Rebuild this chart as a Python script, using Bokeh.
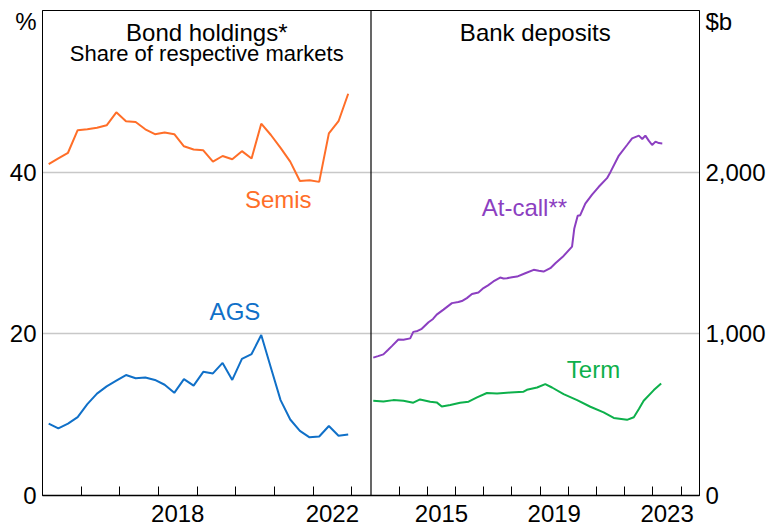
from bokeh.plotting import figure
from bokeh.models import (Range1d, LinearAxis, FixedTicker, NumeralTickFormatter,
                          Span, Label)
from bokeh.embed import file_html
from bokeh.resources import INLINE

# ---------------- data ----------------
# Left panel: quarterly bond holdings shares (%), 2015 Q1 .. 2022 Q4
bond_quarters = [2015.16 + 0.25 * i for i in range(32)]
semis_share = [41.0, 41.7, 42.4, 45.2, 45.3, 45.5, 45.8, 47.4, 46.3, 46.2, 45.3, 44.7,
               44.9, 44.7, 43.2, 42.8, 42.7, 41.3, 42.0, 41.6, 42.6, 41.7, 46.0, 44.6,
               43.0, 41.3, 38.9, 39.0, 38.8, 44.8, 46.3, 49.7]
ags_share = [8.9, 8.3, 8.9, 9.7, 11.3, 12.6, 13.5, 14.2, 14.9, 14.5, 14.6, 14.3,
             13.7, 12.7, 14.4, 13.6, 15.3, 15.1, 16.4, 14.3, 16.9, 17.5, 19.85, 15.8,
             11.8, 9.4, 8.0, 7.2, 7.3, 8.6, 7.4, 7.55]

# Right panel: bank deposits ($b)
atcall_date = [2013.08, 2013.25, 2013.44, 2013.60, 2013.74, 2013.97, 2014.15, 2014.39,
               2014.50, 2014.65, 2014.80, 2015.04, 2015.20, 2015.33, 2015.57, 2015.87,
               2016.10, 2016.25, 2016.40, 2016.58, 2016.81, 2016.99, 2017.15, 2017.34,
               2017.58, 2017.70, 2017.82, 2018.00, 2018.18, 2018.47, 2018.77, 2018.95,
               2019.12, 2019.36, 2019.54, 2019.83, 2020.13, 2020.21, 2020.33, 2020.42,
               2020.60, 2020.84, 2021.07, 2021.37, 2021.49, 2021.79, 2022.08, 2022.26,
               2022.50, 2022.62, 2022.73, 2022.85, 2022.97, 2023.09, 2023.21, 2023.33]
atcall_value = [853, 862, 873, 900, 924, 965, 963, 972,
                1012, 1018, 1031, 1072, 1092, 1119, 1150, 1190,
                1197, 1205, 1221, 1246, 1256, 1283, 1300, 1324,
                1348, 1342, 1344, 1350, 1354, 1375, 1396, 1390,
                1385, 1406, 1436, 1482, 1539, 1652, 1730, 1734,
                1805, 1861, 1908, 1963, 2000, 2103, 2168, 2209,
                2226, 2205, 2226, 2195, 2168, 2189, 2180, 2178]
term_date = [2013.08, 2013.44, 2013.79, 2014.15, 2014.50, 2014.74, 2015.10, 2015.33,
             2015.51, 2015.81, 2016.16, 2016.46, 2016.76, 2017.11, 2017.47, 2017.94,
             2018.41, 2018.53, 2018.89, 2019.18, 2019.42, 2019.83, 2020.31, 2020.78,
             2021.25, 2021.61, 2022.08, 2022.32, 2022.50, 2022.67, 2023.03, 2023.29]
term_value = [586, 582, 590, 586, 574, 594, 580, 576,
              551, 560, 574, 580, 607, 634, 631, 637,
              642, 654, 668, 689, 668, 627, 590, 549,
              514, 480, 468, 484, 535, 586, 652, 693]

left_ticks_pct = [0, 20, 40]
right_ticks_b = [0, 1000, 2000]
left_year_labels = [2018, 2022]
right_year_labels = [2015, 2019, 2023]

# ---------------- styling / layout ----------------
FONT = "Liberation Sans"
FS = "24px"
C_SEMIS = "#FF6E28"
C_AGS = "#1070C8"
C_ATCALL = "#8C3FC1"
C_TERM = "#0DB04B"

L0, L1 = 2015.0, 2023.5      # left panel span (years)
R0, R1 = 2013.0, 2024.65     # right panel span (years)
PCT_TOP, B_TOP = 60, 3000

W, H = 768, 532
FRAME_L, FRAME_R, FRAME_T, FRAME_B = 42, 699, 10, 495
UNIT_DROP = 11  # px below frame top for the "%" / "$b" unit labels

def to_main(yr):
    # position of a right-panel year on the shared (left-panel) axis
    return L1 + (yr - R0) * (L1 - L0) / (R1 - R0)

p = figure(width=W, height=H, output_backend="svg", toolbar_location=None,
           x_range=Range1d(L0, L1 + (L1 - L0)), y_range=Range1d(0, PCT_TOP),
           x_axis_location=None, y_axis_location=None,
           min_border_left=FRAME_L, min_border_right=W - FRAME_R,
           min_border_top=FRAME_T, min_border_bottom=H - FRAME_B)
p.extra_x_ranges = {"right": Range1d(R0 - (R1 - R0), R1)}
p.extra_y_ranges = {"dollars": Range1d(0, B_TOP)}
p.background_fill_color = "white"
p.border_fill_color = "white"
p.outline_line_color = "black"
p.outline_line_width = 1
p.xgrid.visible = False
p.ygrid.ticker = FixedTicker(ticks=left_ticks_pct[1:])
p.ygrid.grid_line_color = "#C8C8C8"
p.ygrid.grid_line_width = 1.5

def style_axis(ax):
    ax.major_label_text_font = FONT
    ax.major_label_text_font_size = FS
    ax.major_label_text_color = "black"
    ax.major_tick_in = 0
    ax.major_tick_out = 0
    ax.minor_tick_in = 0
    ax.minor_tick_out = 0
    ax.axis_line_color = "black"

frame_h = FRAME_B - FRAME_T
pct_unit_pos = PCT_TOP - UNIT_DROP * PCT_TOP / frame_h
b_unit_pos = B_TOP - UNIT_DROP * B_TOP / frame_h

yl = LinearAxis(ticker=FixedTicker(ticks=left_ticks_pct + [pct_unit_pos]),
                major_label_overrides={pct_unit_pos: "%"})
style_axis(yl)
yl.major_label_standoff = 6
p.add_layout(yl, "left")

yr = LinearAxis(y_range_name="dollars",
                ticker=FixedTicker(ticks=right_ticks_b + [b_unit_pos]),
                formatter=NumeralTickFormatter(format="0,0"),
                major_label_overrides={b_unit_pos: "$b"})
style_axis(yr)
yr.major_label_standoff = 6
p.add_layout(yr, "right")

major = [y + 0.5 for y in left_year_labels] + [to_main(y + 0.5) for y in right_year_labels]
overrides = {y + 0.5: str(y) for y in left_year_labels}
overrides.update({to_main(y + 0.5): str(y) for y in right_year_labels})
minor = [float(y) for y in range(2016, 2024)] + [to_main(y) for y in range(2014, 2025)]
xb = LinearAxis(ticker=FixedTicker(ticks=major, minor_ticks=minor),
                major_label_overrides=overrides)
style_axis(xb)
xb.minor_tick_in = 9
xb.minor_tick_line_color = "black"
xb.minor_tick_line_width = 1
xb.axis_line_width = 1.5
xb.major_label_standoff = 9
p.add_layout(xb, "below")

# divider between panels
p.add_layout(Span(location=L1, dimension="height", line_color="black", line_width=1.2))

# ---------------- series ----------------
p.line(bond_quarters, semis_share, line_color=C_SEMIS, line_width=2)
p.line(bond_quarters, ags_share, line_color=C_AGS, line_width=2)
p.line(atcall_date, atcall_value, line_color=C_ATCALL, line_width=2,
       x_range_name="right", y_range_name="dollars")
p.line(term_date, term_value, line_color=C_TERM, line_width=2,
       x_range_name="right", y_range_name="dollars")

def lab(x, y, text, color="black", size=FS, xr="default", yrn="default"):
    p.add_layout(Label(x=x, y=y, text=text, text_color=color, text_font=FONT,
                       text_font_size=size, text_align="center",
                       text_baseline="middle", x_range_name=xr, y_range_name=yrn))

# panel titles
lab((L0 + L1) / 2, 57.3, "Bond holdings*")
lab((L0 + L1) / 2, 54.7, "Share of respective markets", size="22px")
lab((R0 + R1) / 2, 57.3, "Bank deposits", xr="right")

# series labels
lab(2021.10, 36.6, "Semis", color=C_SEMIS)
lab(2019.98, 22.8, "AGS", color=C_AGS)
lab(2018.44, 1781, "At-call**", color=C_ATCALL, xr="right", yrn="dollars")
lab(2020.89, 782, "Term", color=C_TERM, xr="right", yrn="dollars")

open("out.html", "w").write(file_html(p, INLINE))
